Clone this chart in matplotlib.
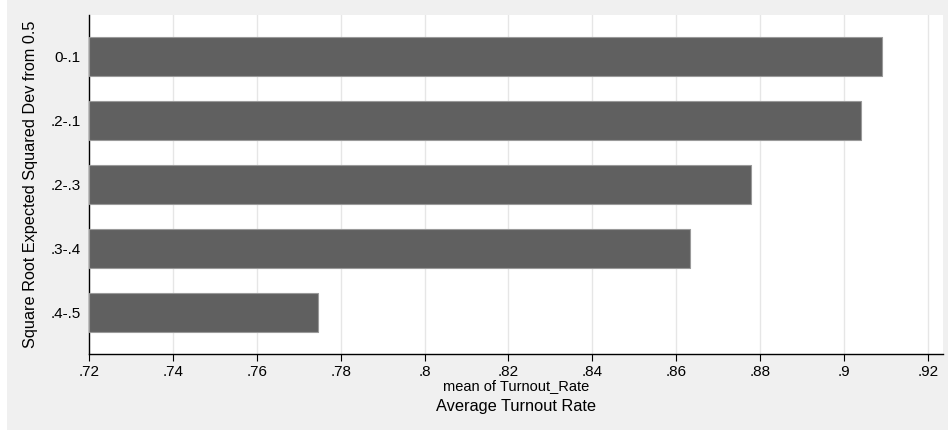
import matplotlib
matplotlib.use("Agg")
import matplotlib.pyplot as plt
from matplotlib.patches import Rectangle

plt.rcParams['font.family'] = ['Liberation Sans', 'DejaVu Sans']

# data
groups = ["0-.1", ".2-.1", ".2-.3", ".3-.4", ".4-.5"]
turnout = [0.9091, 0.9040, 0.8779, 0.8632, 0.7745]
xticks = [0.72, 0.74, 0.76, 0.78, 0.80, 0.82, 0.84, 0.86, 0.88, 0.90, 0.92]
xtick_labels = [".72", ".74", ".76", ".78", ".8", ".82", ".84", ".86", ".88", ".9", ".92"]

W, H = 948, 432
fig = plt.figure(figsize=(W / 100, H / 100), dpi=100, facecolor="white")
# stata style graph region (slightly cropped at left and bottom)
fig.patches.append(Rectangle((7 / W, 2 / H), 1 - 7 / W, 1 - 2 / H,
                             transform=fig.transFigure, facecolor="#f0f0f0",
                             edgecolor="none", zorder=-10))

ax = fig.add_axes([89 / W, 1 - 354 / H, (943 - 89) / W, (354 - 15) / H])
ax.set_facecolor("white")

pos = list(range(len(groups)))
ax.barh(pos, [v - 0.72 for v in turnout], left=0.72, height=0.616,
        color="#606060", edgecolor="#9a9a9a", linewidth=0.8, zorder=3)

ax.set_xlim(0.72, 0.9236)
ax.set_ylim(len(groups) - 1 + 0.655, -0.655)
ax.set_xticks(xticks)
ax.set_xticklabels(xtick_labels, fontsize=11)
ax.set_yticks(pos)
ax.set_yticklabels(groups, fontsize=11)
ax.tick_params(axis="x", length=5, width=0.8, color="black", pad=3)
ax.tick_params(axis="y", length=0, pad=6)
ax.grid(axis="x", color="#e6e6e6", linewidth=1, zorder=0)
ax.set_axisbelow(True)

for side in ["top", "right"]:
    ax.spines[side].set_visible(False)
ax.spines["left"].set_linewidth(1)
ax.spines["bottom"].set_linewidth(1)

ax.set_xlabel("mean of Turnout_Rate", fontsize=10.5, labelpad=0)
ax.set_ylabel("Square Root Expected Squared Dev from 0.5", fontsize=11.7, labelpad=9)
fig.text(516 / W, 1 - 406 / H, "Average Turnout Rate", fontsize=11.8,
         ha="center", va="center")

fig.savefig("out.png", dpi=100, facecolor=fig.get_facecolor())
